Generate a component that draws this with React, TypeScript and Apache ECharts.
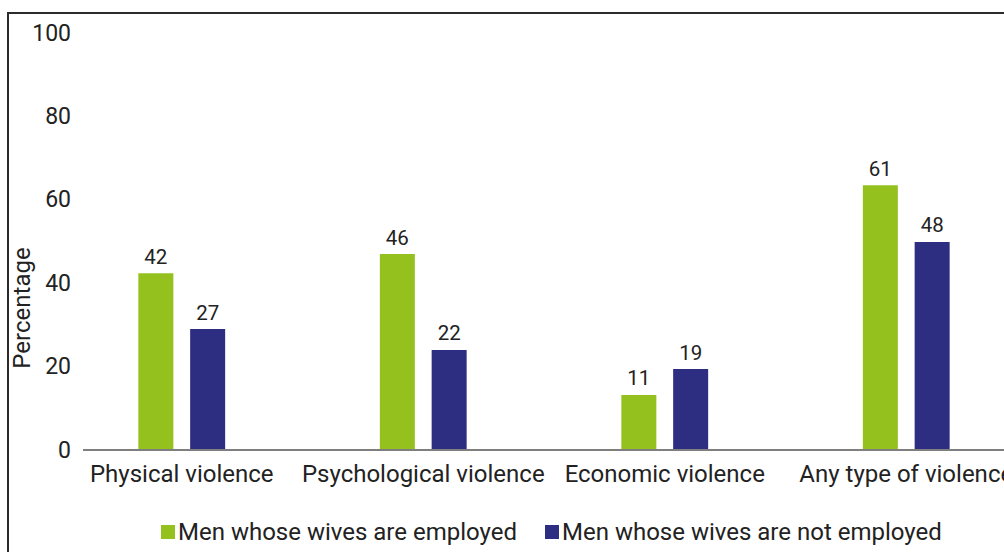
import React, { useEffect, useRef } from "react";
import * as echarts from "echarts";

const categories = ["Physical violence", "Psychological violence", "Economic violence", "Any type of violence"];
const seriesNames = ["Men whose wives are employed", "Men whose wives are not employed"];
// bar heights as drawn in the picture
const employedHeights = [42.4, 47, 13.2, 63.5];
const notEmployedHeights = [29, 24, 19.4, 49.9];
// value labels as printed above the bars
const employedLabels = ["42", "46", "11", "61"];
const notEmployedLabels = ["27", "22", "19", "48"];
const yTicks = [0, 20, 40, 60, 80, 100];

const GREEN = "#95C11F";
const BLUE = "#2D2D82";
const TEXT = "#222222";
const FONT = "Roboto";

export default function App() {
  const ref = useRef<HTMLDivElement>(null);
  useEffect(() => {
    if (!ref.current) return;
    const chart = echarts.init(ref.current, null, { renderer: "svg" });
    const mkSeries = (name: string, data: number[], labels: string[], color: string) => ({
      name,
      type: "bar",
      data,
      barWidth: 35,
      barGap: "48%",
      itemStyle: { color },
      label: {
        show: true,
        position: "top",
        distance: 6,
        color: TEXT,
        fontFamily: FONT,
        fontSize: 20.5,
        formatter: (p: any) => labels[p.dataIndex],
      },
    });
    chart.setOption({
      animation: false,
      textStyle: { fontFamily: FONT },
      grid: { left: 61, right: 13, top: 33, bottom: 102, containLabel: false },
      graphic: [
        {
          type: "rect",
          shape: { x: 8, y: 13, width: 1100, height: 700 },
          style: { fill: "none", stroke: "#2b2b2b", lineWidth: 2 },
          silent: true,
        },
        {
          type: "line",
          shape: { x1: 83, y1: 450, x2: 1040, y2: 450 },
          style: { stroke: "#7f7f7f", lineWidth: 2 },
          silent: true,
          z: 10,
        },
        {
          type: "text",
          x: 22,
          y: 308,
          rotation: Math.PI / 2,
          style: {
            text: "Percentage",
            fill: TEXT,
            font: `24px ${FONT}`,
            align: "center",
            verticalAlign: "middle",
          },
        },
      ],
      legend: {
        left: 156,
        top: 515,
        itemWidth: 14,
        itemHeight: 14,
        itemGap: 28,
        icon: "rect",
        textStyle: { color: TEXT, fontFamily: FONT, fontSize: 24, padding: [0, 0, 0, -2] },
        data: seriesNames,
      },
      xAxis: {
        type: "category",
        data: categories,
        axisLine: { show: false },
        axisTick: { show: false },
        axisLabel: { color: TEXT, fontFamily: FONT, fontSize: 24, margin: 12, interval: 0 },
      },
      yAxis: {
        type: "value",
        min: yTicks[0],
        max: yTicks[yTicks.length - 1],
        interval: 20,
        axisLine: { show: false },
        axisTick: { show: false },
        splitLine: { show: false },
        axisLabel: { color: TEXT, fontFamily: FONT, fontSize: 23, margin: -10 },
      },
      series: [
        mkSeries(seriesNames[0], employedHeights, employedLabels, GREEN),
        mkSeries(seriesNames[1], notEmployedHeights, notEmployedLabels, BLUE),
      ],
    });
    return () => chart.dispose();
  }, []);
  return (
    <div style={{ position: "absolute", left: 0, top: 0, width: 1004, height: 552, overflow: "hidden" }}>
      <div ref={ref} style={{ width: 1040, height: 552 }} />
    </div>
  );
}
